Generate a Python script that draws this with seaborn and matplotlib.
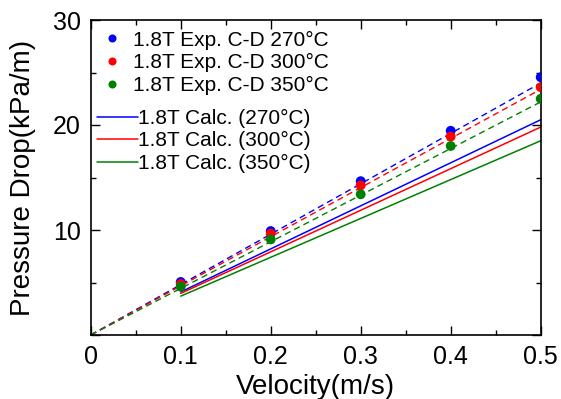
import matplotlib
matplotlib.use("Agg")
import matplotlib.pyplot as plt
import seaborn as sns
import pandas as pd
from matplotlib.ticker import MultipleLocator, FuncFormatter
from matplotlib.lines import Line2D

sns.set_style("ticks")
plt.rcParams['font.family'] = ['Liberation Sans', 'DejaVu Sans']
plt.rcParams['text.color'] = 'black'
plt.rcParams['axes.labelcolor'] = 'black'
plt.rcParams['xtick.color'] = 'black'
plt.rcParams['ytick.color'] = 'black'

velocity = [0.1, 0.2, 0.3, 0.4, 0.5]
exp_270 = [5.05, 9.9, 14.65, 19.45, 24.55]
exp_300 = [4.85, 9.65, 14.25, 18.9, 23.6]
exp_350 = [4.6, 9.1, 13.4, 18.0, 22.5]

fit_x = [0.0, 0.5]
fit_270 = [0.0, 24.0]
fit_300 = [0.0, 23.4]
fit_350 = [0.0, 22.2]

calc_x = [0.1, 0.5]
calc_270 = [4.1, 20.5]
calc_300 = [3.96, 19.8]
calc_350 = [3.7, 18.5]

labels_exp = ["1.8T Exp. C-D 270°C", "1.8T Exp. C-D 300°C", "1.8T Exp. C-D 350°C"]
labels_calc = ["1.8T Calc. (270°C)", "1.8T Calc. (300°C)", "1.8T Calc. (350°C)"]
colors = ["#0000ff", "#ff0000", "#008000"]

fig = plt.figure(figsize=(5.61, 3.99), dpi=100)
ax = fig.add_axes([90.7/561, 64/399, 450/561, 315/399])

exps = [exp_270, exp_300, exp_350]
fits = [fit_270, fit_300, fit_350]
calcs = [calc_270, calc_300, calc_350]

for fy, c in zip(fits, colors):
    df = pd.DataFrame({"x": fit_x, "y": fy})
    sns.lineplot(data=df, x="x", y="y", ax=ax, color=c, lw=1.0,
                 dashes=False, linestyle=(0, (4.5, 3)), legend=False)
for cy, c in zip(calcs, colors):
    df = pd.DataFrame({"x": calc_x, "y": cy})
    sns.lineplot(data=df, x="x", y="y", ax=ax, color=c, lw=1.1, legend=False)
for ey, c in zip(exps, colors):
    df = pd.DataFrame({"x": velocity, "y": ey})
    sns.scatterplot(data=df, x="x", y="y", ax=ax, color=c, s=50,
                    edgecolor="none", legend=False, zorder=5)

ax.set_xlim(0, 0.5)
ax.set_ylim(0, 30)
ax.xaxis.set_major_locator(MultipleLocator(0.1))
ax.xaxis.set_minor_locator(MultipleLocator(0.05))
ax.yaxis.set_major_locator(MultipleLocator(10))
ax.yaxis.set_minor_locator(MultipleLocator(5))
ax.xaxis.set_major_formatter(FuncFormatter(lambda v, p: "0" if abs(v) < 1e-9 else f"{v:.1f}"))
ax.yaxis.set_major_formatter(FuncFormatter(lambda v, p: "" if abs(v) < 1e-9 else f"{v:.0f}"))
ax.tick_params(which="both", direction="in", top=True, right=True, width=1.0,
               color="black", labelcolor="black")
ax.tick_params(which="major", length=6.5, labelsize=18, pad=7)
ax.tick_params(which="minor", length=3.6)
for s in ax.spines.values():
    s.set_linewidth(1.2)
    s.set_color("black")

ax.set_xlabel("Velocity(m/s)", fontsize=20, labelpad=4, color="black")
ax.set_ylabel("Pressure Drop(kPa/m)", fontsize=20, labelpad=12, color="black")

h1 = [Line2D([], [], ls="none", marker="o", ms=5.8, mec="none", color=c) for c in colors]
leg1 = ax.legend(h1, labels_exp, loc="upper left", bbox_to_anchor=(0.025, 0.966),
                 frameon=False, fontsize=15, handlelength=1.0, handletextpad=0.5,
                 borderaxespad=0, borderpad=0, labelspacing=0.17, labelcolor="black")
ax.add_artist(leg1)
h2 = [Line2D([], [], color=c, lw=1.1) for c in colors]
ax.legend(h2, labels_calc, loc="upper left", bbox_to_anchor=(0.0133, 0.718),
          frameon=False, fontsize=15, handlelength=2.0, handletextpad=0.0,
          borderaxespad=0, borderpad=0, labelspacing=0.17, labelcolor="black")

fig.savefig("out.png", dpi=100)
